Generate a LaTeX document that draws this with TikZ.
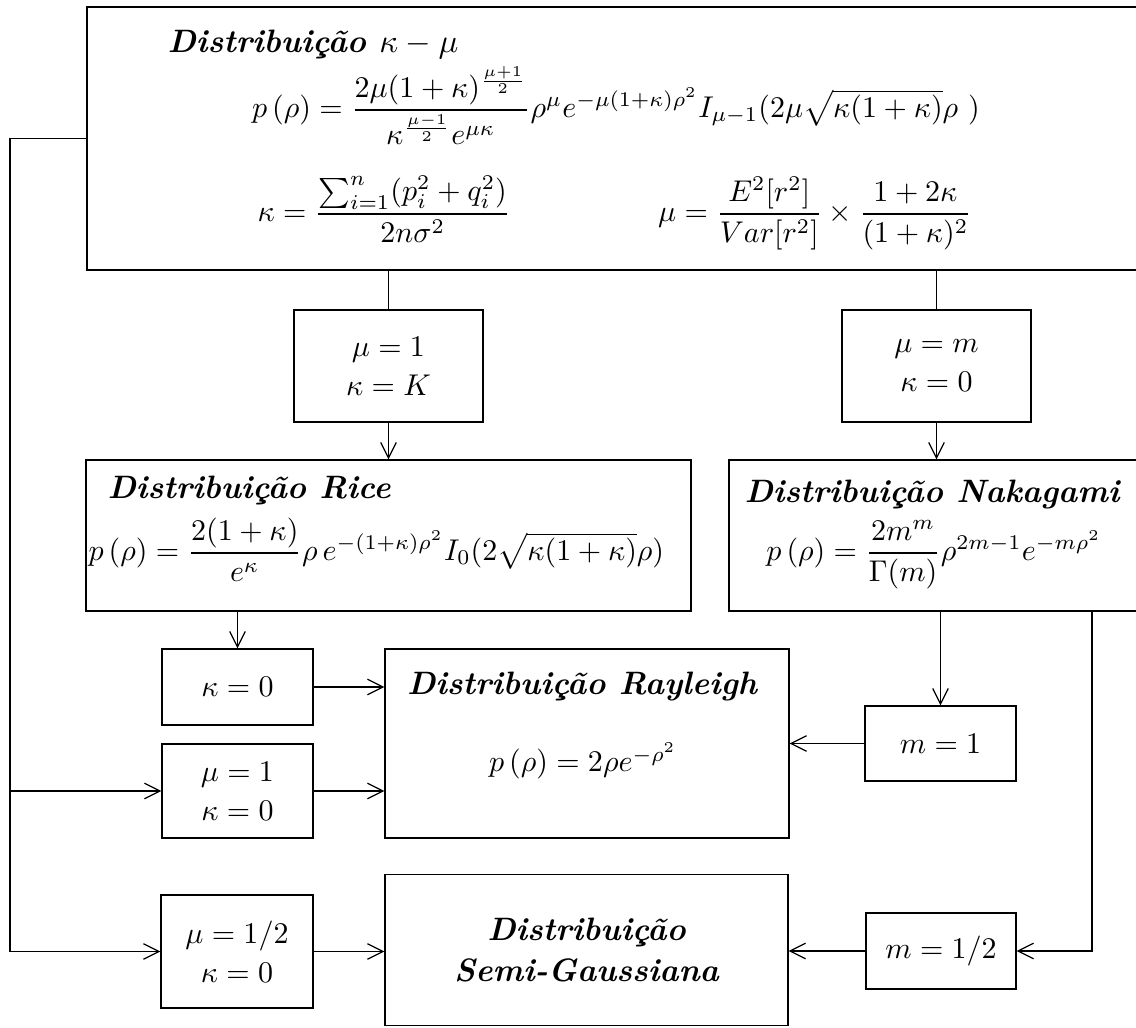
\documentclass[tikz,border=0pt]{standalone}
\usepackage{amsmath}
\usetikzlibrary{arrows.meta}
\begin{document}
\begin{tikzpicture}[x=0.33333pt,y=-0.33333pt,
  box/.style={draw,rectangle,inner sep=0pt,align=center},
  txt/.style={inner sep=0pt},
  conn/.style={line width=0.4pt},
  arr/.style={conn,-{Straight Barb[length=5.2pt,width=5.2pt]}},
  ttl/.style={font=\fontsize{10.8}{13.3}\selectfont\bfseries\itshape},
  bigm/.style={font=\fontsize{10.4}{12.5}\selectfont}]
\useasboundingbox (0,0) rectangle (1136,1028);
% boxes
\node[box,minimum width=1063*0.33333pt,minimum height=263*0.33333pt] (top) at (618.5,138.5) {};
\node[box,minimum width=189*0.33333pt,minimum height=112*0.33333pt] (kK) at (388.5,366) {$\mu=1$\\[1pt]$\kappa=K$};
\node[box,minimum width=189*0.33333pt,minimum height=112*0.33333pt] (m0) at (936.5,366) {$\mu=m$\\[1pt]$\kappa=0$};
\node[box,minimum width=605*0.33333pt,minimum height=151*0.33333pt] (rice) at (388.5,535.5) {};
\node[box,minimum width=421*0.33333pt,minimum height=151*0.33333pt] (naka) at (939.5,535.5) {};
\node[box,minimum width=151*0.33333pt,minimum height=76*0.33333pt] (k0) at (237.5,687) {$\kappa=0$};
\node[box,minimum width=151*0.33333pt,minimum height=94*0.33333pt] (mu1k0) at (237.5,791) {$\mu=1$\\[1pt]$\kappa=0$};
\node[box,minimum width=404*0.33333pt,minimum height=189*0.33333pt] (ray) at (587,743.5) {};
\node[box,minimum width=151*0.33333pt,minimum height=75*0.33333pt] (m1) at (940.5,743.5) {$m=1$};
\node[box,minimum width=152*0.33333pt,minimum height=113*0.33333pt] (half) at (237,951.5) {$\mu=1/2$\\[1pt]$\kappa=0$};
\node[box,ttl,minimum width=403*0.33333pt,minimum height=151*0.33333pt] (semi) at (586.5,950) {Distribuição\\[0.2pt]Semi-Gaussiana};
\node[box,minimum width=150*0.33333pt,minimum height=76*0.33333pt] (mhalf) at (941,951) {$m=1/2$};
% texts in top box
\node[txt,ttl,anchor=base west] (t1) at (167,52.5) {Distribuição \normalfont$\kappa-\mu$};
\node[txt,anchor=base] (t2) at (616,117.5) {$p\left(\rho\right)=\dfrac{2\mu(1+\kappa)^{\frac{\mu+1}{2}}}{\kappa^{\frac{\mu-1}{2}}e^{\mu\kappa}}\rho^{\mu}e^{-\mu(1+\kappa)\rho^2}I_{\mu-1}(2\mu\sqrt{\kappa(1+\kappa)}\rho\ )$};
\node[txt,bigm,anchor=base] (t3) at (384,221.5) {$\kappa=\dfrac{\sum_{i=1}^{n}(p_i^2+q_i^2)}{2n\sigma^2}$};
\node[txt,bigm,anchor=base] (t4) at (815,221.5) {$\mu=\dfrac{E^2[r^2]}{Var[r^2]}\times\dfrac{1+2\kappa}{(1+\kappa)^2}$};
% texts in rice / nakagami / rayleigh
\node[txt,ttl,anchor=base west] (r1) at (107,498.5) {Distribuição Rice};
\node[txt,anchor=base west] (r2) at (88,560.5) {$p\left(\rho\right)=\dfrac{2(1+\kappa)}{e^{\kappa}}\rho\,e^{-(1+\kappa)\rho^2}I_0(2\sqrt{\kappa(1+\kappa)}\rho)$};
\node[txt,ttl,anchor=base] (n1) at (932,503) {Distribuição Nakagami};
\node[txt,bigm,anchor=base] (n2) at (934,560.5) {$p\left(\rho\right)=\dfrac{2m^m}{\Gamma(m)}\rho^{2m-1}e^{-m\rho^2}$};
\node[txt,ttl,anchor=base] (y1) at (582,694) {Distribuição Rayleigh};
\node[txt,anchor=base] (y2) at (583,772) {$p\left(\rho\right)=2\rho e^{-\rho^2}$};
% connectors
\coordinate (lt) at (10,138.5);
\coordinate (lb) at (10,951.5);
\coordinate (rx) at (1092,0);
\draw[arr] (top.west) -- (lt) -- (lb) -- (half.west);
\draw[arr] (lt |- mu1k0.west) -- (mu1k0.west);
\draw[conn] (top.south -| kK.north) -- (kK.north);
\draw[conn] (top.south -| m0.north) -- (m0.north);
\draw[arr] (kK.south) -- (kK.south |- rice.north);
\draw[arr] (m0.south) -- (m0.south |- naka.north);
\draw[arr] (rice.south -| k0.north) -- (k0.north);
\draw[arr] (naka.south -| m1.north) -- (m1.north);
\draw[arr] (k0.east) -- (k0.east -| ray.west);
\draw[arr] (mu1k0.east) -- (mu1k0.east -| ray.west);
\draw[arr] (m1.west) -- (m1.west -| ray.east);
\draw[arr] (naka.south -| rx) |- (mhalf.east);
\draw[arr] (mhalf.west) -- (mhalf.west -| semi.east);
\draw[arr] (half.east) -- (half.east -| semi.west);
\end{tikzpicture}
\end{document}
